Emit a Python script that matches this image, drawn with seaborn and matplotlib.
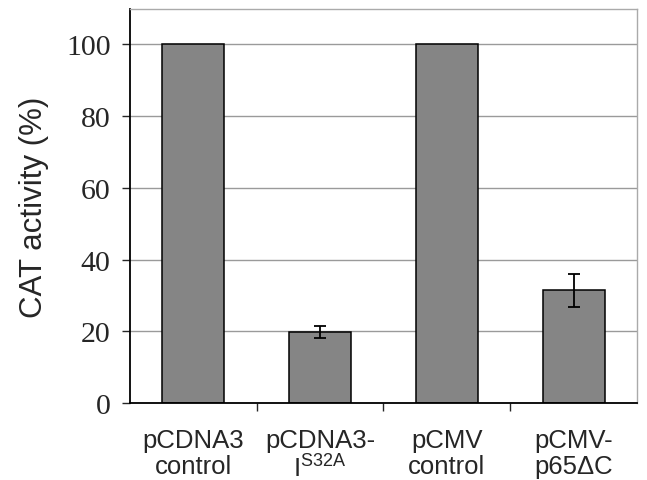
import matplotlib
matplotlib.use('Agg')
import matplotlib.pyplot as plt
import pandas as pd
import seaborn as sb

constructs = ['pCDNA3\ncontrol', 'pCDNA3-\nI$^{S32A}$', 'pCMV\ncontrol', 'pCMV-\np65\u0394C']
activity = [100, 19.9, 100, 31.4]
errors = [0, 1.7, 0, 4.5]

sb.set_style('white')
plt.rcParams['font.family'] = ['Liberation Sans', 'DejaVu Sans']
plt.rcParams['mathtext.default'] = 'regular'

df = pd.DataFrame({'construct': constructs, 'activity': activity})

fig = plt.figure(figsize=(6.47, 4.81), dpi=100)
ax = fig.add_axes([0.2009, 0.16, 0.7836, 0.82])

sb.barplot(data=df, x='construct', y='activity', ax=ax, width=0.49,
           color='#858585', edgecolor='black', linewidth=1.1, saturation=1)

err_x = [i for i, e in enumerate(errors) if e > 0]
ax.errorbar(err_x, [activity[i] for i in err_x], yerr=[errors[i] for i in err_x],
            fmt='none', ecolor='black', elinewidth=1.3, capsize=4.5, capthick=1.3, zorder=5)

ax.set_ylim(0, 110)
ax.set_xlim(-0.5, 3.5)
ax.set_yticks([0, 20, 40, 60, 80, 100])
ax.yaxis.grid(True, color='#9a9a9a', linewidth=1)
ax.set_axisbelow(True)

for lbl in ax.get_yticklabels():
    lbl.set_family('Liberation Serif')
    lbl.set_fontsize(21.5)
ax.tick_params(axis='y', direction='out', length=6, width=1, pad=8, left=True)

ax.set_xticks(range(len(constructs)))
ax.set_xticklabels(constructs, fontsize=18.5, linespacing=1.1)
ax.tick_params(axis='x', which='major', length=0, pad=18)
ax.set_xticks([0.5, 1.5, 2.5], minor=True)
ax.tick_params(axis='x', which='minor', direction='out', length=6, width=1, bottom=True)

ax.set_xlabel('')
ax.set_ylabel('CAT activity (%)', fontsize=22.5, labelpad=12)

for side in ['left', 'bottom']:
    ax.spines[side].set_color('black')
    ax.spines[side].set_linewidth(1.3)
for side in ['top', 'right']:
    ax.spines[side].set_visible(True)
    ax.spines[side].set_color('#aaaaaa')
    ax.spines[side].set_linewidth(1)

fig.savefig('out.png', dpi=100)
